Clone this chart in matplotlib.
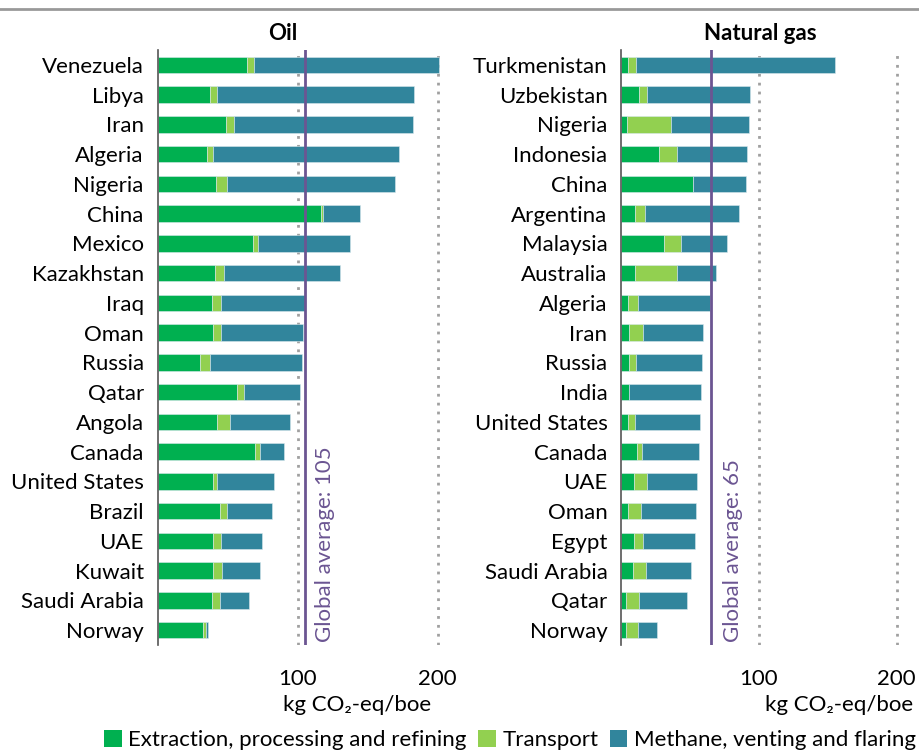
import matplotlib
matplotlib.use("Agg")
import matplotlib.pyplot as plt
from matplotlib.patches import Patch

plt.rcParams["font.family"] = ["Lato", "DejaVu Sans"]

# ---- data (kg CO2-eq/boe), cumulative edges ----
oil_countries = ["Venezuela", "Libya", "Iran", "Algeria", "Nigeria", "China", "Mexico",
                 "Kazakhstan", "Iraq", "Oman", "Russia", "Qatar", "Angola", "Canada",
                 "United States", "Brazil", "UAE", "Kuwait", "Saudi Arabia", "Norway"]
oil_extraction = [64, 37.4, 49, 35, 41.6, 116.6, 68, 40.9, 39, 39.7, 30.2, 56.6, 42.6, 69.5,
                  39.7, 44.7, 39.7, 39.7, 39, 32.6]
oil_transport = [5, 5, 5.3, 4.3, 7.9, 1.2, 3.9, 6.5, 6, 5.7, 6.9, 5, 9.3, 3.4,
                 2.7, 5, 5.7, 6.2, 5.7, 2.1]
oil_methane = [132, 140.4, 128.1, 133.1, 119.8, 26.9, 65.7, 83, 60, 58.4, 65.9, 39.8, 42.6, 17.5,
               40.4, 32.2, 29.3, 27.4, 20.7, 1.2]
oil_average = 105

gas_countries = ["Turkmenistan", "Uzbekistan", "Nigeria", "Indonesia", "China", "Argentina",
                 "Malaysia", "Australia", "Algeria", "Iran", "Russia", "India", "United States",
                 "Canada", "UAE", "Oman", "Egypt", "Saudi Arabia", "Qatar", "Norway"]
gas_extraction = [4.6, 13.1, 4.1, 27.4, 52.3, 9.7, 31, 9.9, 4.9, 5.8, 5.8, 5.8, 4.9,
                  11.4, 9.2, 4.6, 9.2, 8.7, 3.4, 3.4]
gas_transport = [5.8, 5.8, 32.2, 13.3, 0, 7.3, 12.6, 30.3, 7.2, 10, 4.9, 0, 5.3,
                 3.6, 9.7, 9.5, 6.8, 9.5, 9.5, 8.9]
gas_methane = [145, 74.6, 56.2, 50.3, 38.5, 68.5, 33.2, 28.6, 52.5, 43.8, 47.9, 52.3, 46.7,
               41.4, 36.3, 40.1, 37.3, 32.2, 34.6, 13.6]
gas_average = 65

series_labels = ["Extraction, processing and refining", "Transport", "Methane, venting and flaring"]
colors = ["#00b050", "#92d050", "#31859c"]
avg_color = "#6b5592"

W, H = 920, 753
fig = plt.figure(figsize=(W / 100, H / 100), dpi=100)

top_px, bottom_px = 50, 645
fs = 16


def panel(left_px, px_per_unit, countries, ext, tra, met, avg, title, title_x, avg_text_x):
    xmax = 210
    ax = fig.add_axes([left_px / W, (H - bottom_px) / H,
                       xmax * px_per_unit / W, (bottom_px - top_px) / H])
    y = list(range(len(countries)))
    left = [0] * len(countries)
    for vals, c in zip([ext, tra, met], colors):
        ax.barh(y, vals, left=left, height=0.55, color=c, edgecolor="#d8e8ec", linewidth=0.4)
        left = [a + b for a, b in zip(left, vals)]
    ax.set_xlim(0, xmax)
    ax.set_ylim(len(countries) - 0.5, -0.5)
    ax.set_yticks(y)
    ax.set_yticklabels(countries, fontsize=fs)
    ax.set_xticks([100, 200])
    ax.set_xticklabels(["100", "200"], fontsize=fs)
    ax.tick_params(axis="both", length=0)
    ax.tick_params(axis="y", pad=10)
    ax.tick_params(axis="x", pad=17)
    for s in ["top", "right", "bottom"]:
        ax.spines[s].set_visible(False)
    ax.spines["left"].set_color("#555555")
    ax.spines["left"].set_linewidth(1.2)
    for g in [100, 200]:
        ax.axvline(g, color="#a0a0a0", linestyle=(0, (1, 2.2)), linewidth=2, zorder=0)
    ax.axvline(avg, color=avg_color, linewidth=2, zorder=3)
    ax.text(avg_text_x, 19.4, f"Global average: {avg}", rotation=90, ha="center",
            va="bottom", color=avg_color, fontsize=fs)
    ax.set_xlabel("kg CO\u2082-eq/boe", fontsize=fs)
    ax.xaxis.set_label_coords((title_x[1] - left_px) / (xmax * px_per_unit),
                              (bottom_px - 705) / (bottom_px - top_px))
    ax.xaxis.label.set_va("center")
    fig.text(title_x[0] / W, 1 - 34 / H, title, fontsize=fs, fontweight="bold",
             ha="center", va="center")
    return ax


panel(157.7, 1.40, oil_countries, oil_extraction, oil_transport, oil_methane, oil_average,
      "Oil", (283, 357), 119.5)
panel(621.3, 1.377, gas_countries, gas_extraction, gas_transport, gas_methane, gas_average,
      "Natural gas", (760, 839), 81.1)

fig.add_artist(plt.Line2D([0, 1], [1 - 9 / H, 1 - 9 / H], color="#999999", linewidth=2))

handles = [Patch(facecolor=c, label=l) for c, l in zip(colors, series_labels)]
fig.legend(handles=handles, loc="center", bbox_to_anchor=(510 / W, 13 / H), ncol=3,
           frameon=False, fontsize=fs, handlelength=0.8, handleheight=0.8,
           handletextpad=0.3, columnspacing=0.5, borderpad=0)

fig.savefig("out.png", dpi=100)
